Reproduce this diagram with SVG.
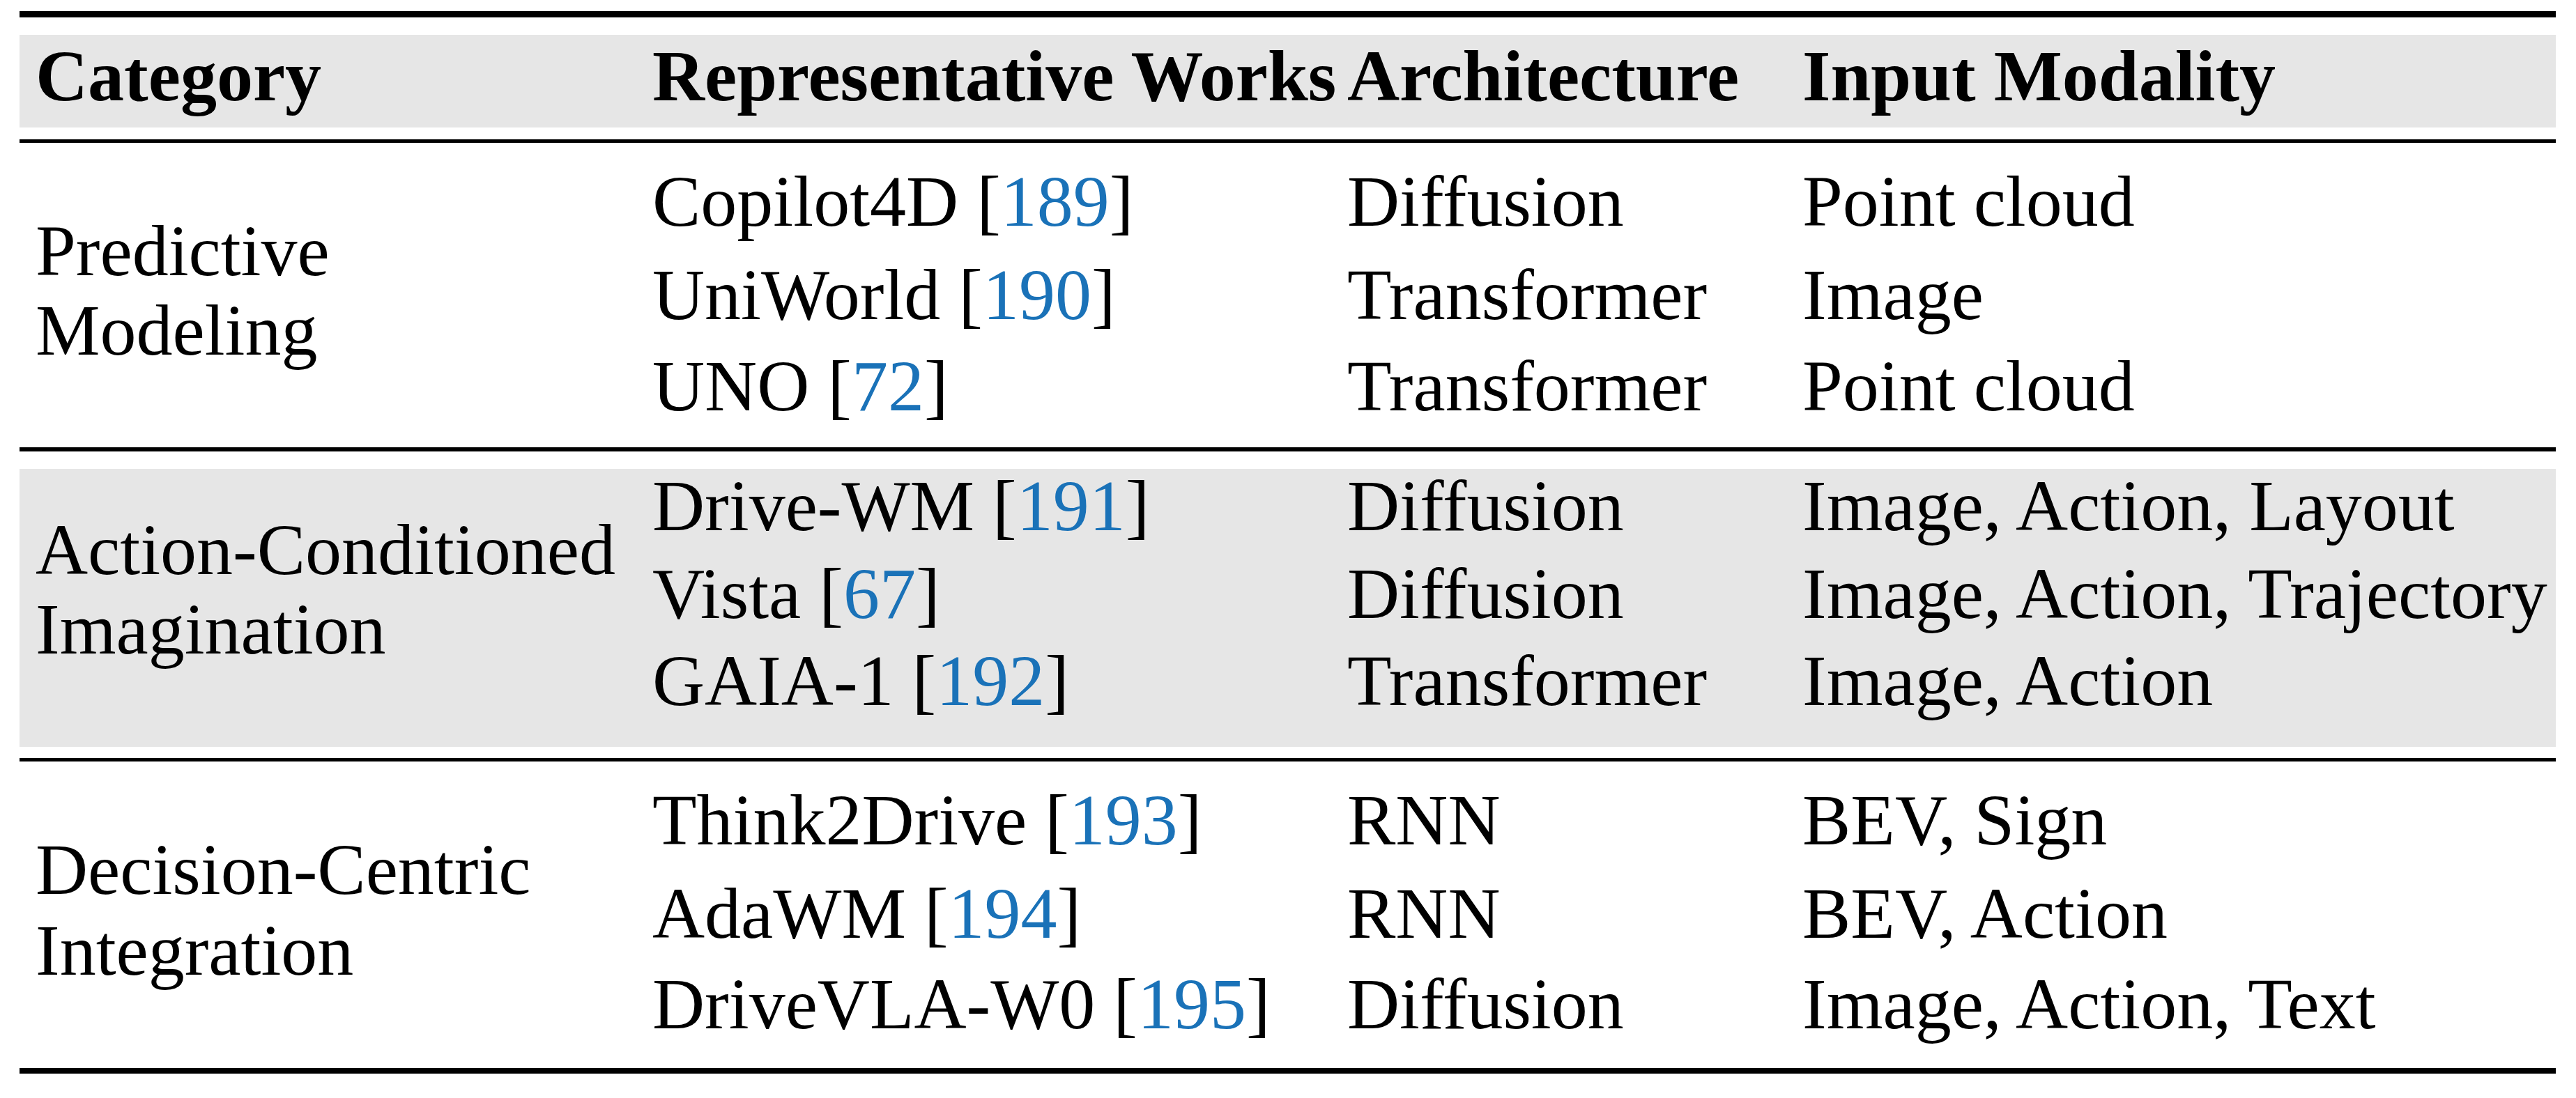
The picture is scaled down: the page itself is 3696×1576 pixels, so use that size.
<svg xmlns="http://www.w3.org/2000/svg" width="3696" height="1576" viewBox="0 0 3696 1576">
<style>
text{font-family:"Liberation Serif","Times New Roman",serif;font-size:104px;fill:#000}
.h{font-weight:bold}
.c{fill:#1a72b8}
.g{fill:#e6e6e6}
</style>
<rect width="3696" height="1576" fill="#fff"/>
<g id="backgrounds">
<rect class="g" x="28" y="50" width="3639" height="133"/>
<rect class="g" x="28" y="673" width="3639" height="399"/>
</g>
<g id="rules" fill="#000">
<rect x="28" y="16" width="3639" height="9"/>
<rect x="28" y="200" width="3639" height="5"/>
<rect x="28" y="642" width="3639" height="6"/>
<rect x="28" y="1088" width="3639" height="5"/>
<rect x="28" y="1533" width="3639" height="8"/>
</g>
<g id="header">
<text class="h" x="51" y="144">Category</text>
<text class="h" x="936" y="144">Representative Works</text>
<text class="h" x="1933" y="144">Architecture</text>
<text class="h" x="2586" y="144">Input Modality</text>
</g>
<g id="section1">
<text x="51" y="395">Predictive</text>
<text x="51" y="509">Modeling</text>
<text x="936" y="324">Copilot4D [<tspan class="c">189</tspan>]</text>
<text x="1933" y="324">Diffusion</text>
<text x="2586" y="324">Point cloud</text>
<text x="936" y="458">UniWorld [<tspan class="c">190</tspan>]</text>
<text x="1933" y="458">Transformer</text>
<text x="2586" y="458">Image</text>
<text x="936" y="589">UNO [<tspan class="c">72</tspan>]</text>
<text x="1933" y="589">Transformer</text>
<text x="2586" y="589">Point cloud</text>
</g>
<g id="section2">
<text x="51" y="824">Action-Conditioned</text>
<text x="51" y="938">Imagination</text>
<text x="936" y="761">Drive-WM [<tspan class="c">191</tspan>]</text>
<text x="1933" y="761">Diffusion</text>
<text x="2586" y="761">Image, Action, Layout</text>
<text x="936" y="887">Vista [<tspan class="c">67</tspan>]</text>
<text x="1933" y="887">Diffusion</text>
<text x="2586" y="887">Image, Action, Trajectory</text>
<text x="936" y="1012">GAIA-1 [<tspan class="c">192</tspan>]</text>
<text x="1933" y="1012">Transformer</text>
<text x="2586" y="1012">Image, Action</text>
</g>
<g id="section3">
<text x="51" y="1283">Decision-Centric</text>
<text x="51" y="1399">Integration</text>
<text x="936" y="1212">Think2Drive [<tspan class="c">193</tspan>]</text>
<text x="1933" y="1212">RNN</text>
<text x="2586" y="1212">BEV, Sign</text>
<text x="936" y="1346">AdaWM [<tspan class="c">194</tspan>]</text>
<text x="1933" y="1346">RNN</text>
<text x="2586" y="1346">BEV, Action</text>
<text x="936" y="1476">DriveVLA-W0 [<tspan class="c">195</tspan>]</text>
<text x="1933" y="1476">Diffusion</text>
<text x="2586" y="1476">Image, Action, Text</text>
</g>
</svg>
